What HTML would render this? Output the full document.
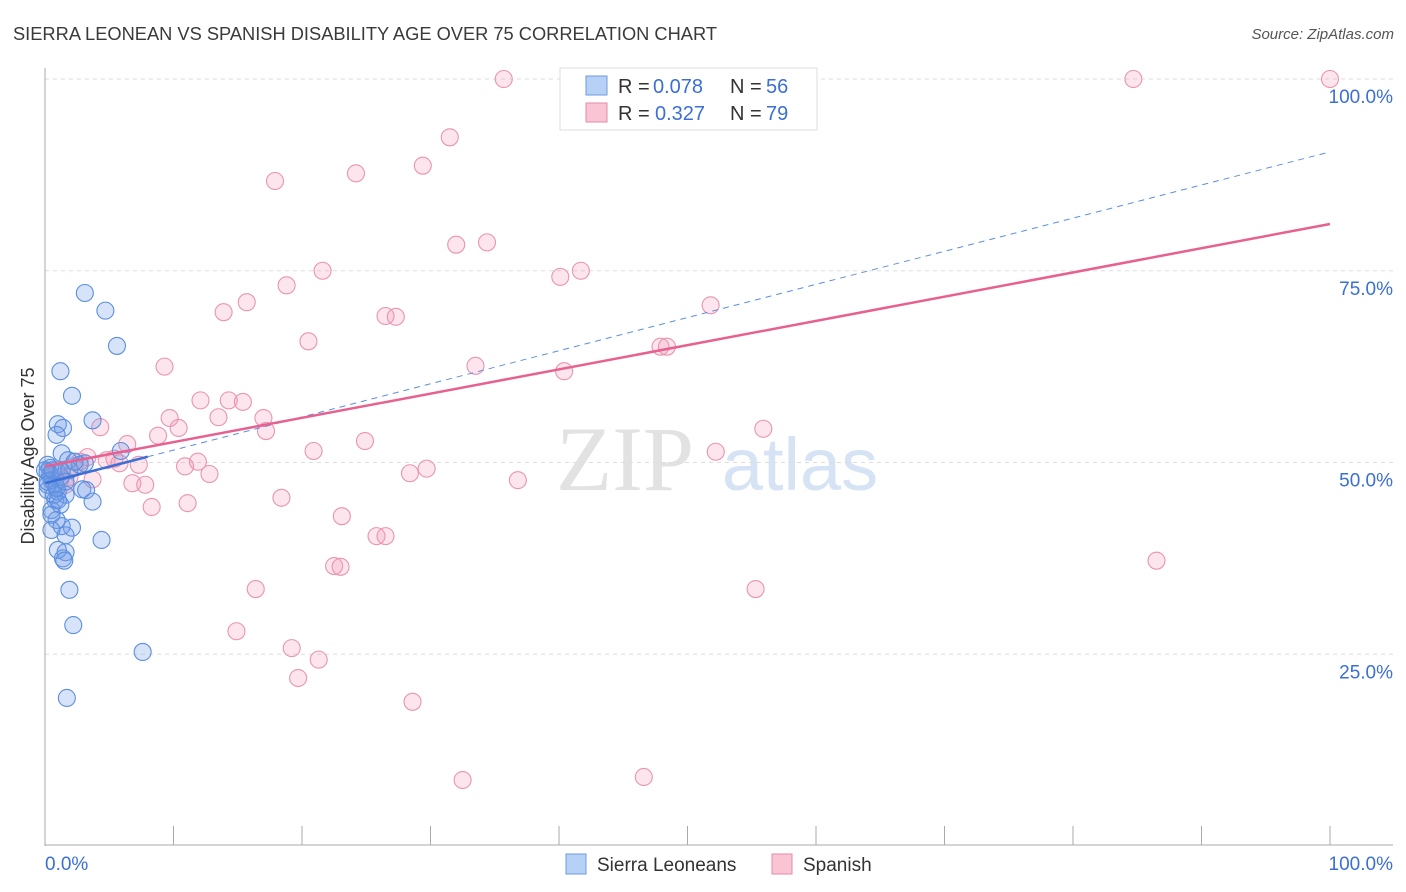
<!DOCTYPE html>
<html><head><meta charset="utf-8"><style>
body{margin:0;background:#fff;font-family:"Liberation Sans",sans-serif;}
svg{display:block}
</style></head><body>
<svg id="chart" width="1406" height="892">
<text x="13" y="40" font-size="18" fill="#3a3a3a" textLength="704" lengthAdjust="spacingAndGlyphs">SIERRA LEONEAN VS SPANISH DISABILITY AGE OVER 75 CORRELATION CHART</text>
<text x="1394" y="39" font-size="15" fill="#555" text-anchor="end" font-style="italic">Source: ZipAtlas.com</text>
<g>
<text x="625" y="490" font-size="92" fill="#e2e2e2" font-family="Liberation Serif,serif" text-anchor="middle">ZIP</text>
<text x="800" y="490" font-size="74" fill="#d6e3f5" text-anchor="middle">atlas</text>
</g>
<g id="grid"></g>
<g id="axes"></g>
<g id="marks"></g>
<g id="lines"></g>
<g>
<rect x="560" y="68" width="257" height="62" fill="#fff" stroke="#ddd"/>
<rect x="586" y="76" width="21" height="19" fill="#b7d0f5" stroke="#6e9ae0"/>
<text x="618" y="93" font-size="20" fill="#333">R =</text>
<text x="653" y="93" font-size="20" fill="#3b6fd4">0.078</text>
<text x="730" y="93" font-size="20" fill="#333">N =</text>
<text x="766" y="93" font-size="20" fill="#3b6fd4">56</text>
<rect x="586" y="103" width="21" height="19" fill="#f9c5d5" stroke="#e88aa8"/>
<text x="618" y="120" font-size="20" fill="#333">R =</text>
<text x="655" y="120" font-size="20" fill="#3b6fd4">0.327</text>
<text x="730" y="120" font-size="20" fill="#333">N =</text>
<text x="766" y="120" font-size="20" fill="#3b6fd4">79</text>
</g>
<g>
<rect x="566" y="854" width="20" height="20" fill="#b7d0f5" stroke="#6e9ae0"/>
<text x="597" y="871" font-size="19" fill="#333">Sierra Leoneans</text>
<rect x="772" y="854" width="20" height="20" fill="#f9c5d5" stroke="#e88aa8"/>
<text x="803" y="871" font-size="19" fill="#333">Spanish</text>
</g>
<text transform="translate(34,456) rotate(-90)" font-size="18" fill="#333" text-anchor="middle">Disability Age Over 75</text>
</svg>
<script>
const blueX=[3.1,4.7,5.6,1.2,2.1,3.7,1.0,1.4,0.9,5.9,1.3,1.8,2.7,3.1,0.4,0.2,0.5,0.8,0.2,1.0,1.6,2.9,3.2,3.7,0.8,1.2,0.5,0.9,1.3,2.1,0.5,1.6,4.4,1.0,1.6,1.4,1.5,1.9,2.2,7.6,1.7,0.2,0.4,0.2,0.7,1.2,1.9,0.5,1.0,0,0.2,0.6,0.9,1.3,2.3,1.6];
const blueY=[72.1,69.8,65.2,61.9,58.7,55.5,55.0,54.5,53.6,51.5,51.2,50.3,49.7,49.9,49.3,48.8,47.7,47.1,46.4,46.2,45.8,46.5,46.4,44.9,45.1,44.5,43.8,42.5,41.7,41.5,41.2,40.5,39.9,38.6,38.3,37.5,37.2,33.4,28.8,25.3,19.3,49.7,48.4,47.5,45.8,48.1,49.0,43.2,45.1,49.0,47.1,49.0,46.7,48.8,50.1,47.5];
const pinkX=[35.7,84.7,100,31.5,29.4,24.2,17.9,34.4,32.0,21.6,41.7,40.1,18.8,15.7,13.9,51.8,26.5,27.3,20.5,47.9,48.4,9.3,33.5,40.4,12.1,14.3,15.4,9.7,13.5,17.0,4.3,10.4,17.2,8.8,55.9,24.9,6.4,20.9,52.2,3.3,4.8,5.4,11.9,10.9,7.3,5.8,29.7,28.4,12.8,36.8,3.7,1.2,1.9,6.8,7.8,18.4,11.1,8.3,23.1,25.8,26.5,22.5,23.0,86.5,16.4,55.3,14.9,19.2,21.3,19.7,28.6,32.5,46.6,0.5,0.9,1.6,2.3,2.7];
const pinkY=[100,100,100,92.4,88.7,87.7,86.7,78.7,78.4,75.0,75.0,74.2,73.1,70.9,69.6,70.5,69.1,69.0,65.8,65.1,65.1,62.5,62.6,61.9,58.1,58.1,57.9,55.8,55.9,55.8,54.6,54.5,54.1,53.5,54.4,52.8,52.4,51.5,51.4,50.7,50.3,50.5,50.1,49.5,49.7,49.9,49.2,48.6,48.5,47.7,47.8,47.8,48.1,47.3,47.1,45.4,44.7,44.2,43.0,40.4,40.4,36.5,36.4,37.2,33.5,33.5,28.0,25.8,24.3,21.9,18.8,8.6,9.0,48.2,49.0,47.1,49.5,50.1];
const yTicks=[25,50,75,100];
const yTickLabels=["25.0%","50.0%","75.0%","100.0%"];
const xTicks=[0,10,20,30,40,50,60,70,80,90,100];
const pinkTrend=[49.5,81.1];
const blueTrend=[47.3,90.5];
const blueSolidEnd=8;

const NS="http://www.w3.org/2000/svg";
const X=v=>45+v*12.85, Y=v=>846-v*7.67;
function mk(tag,attrs,parent){const e=document.createElementNS(NS,tag);for(const k in attrs)e.setAttribute(k,attrs[k]);parent.appendChild(e);return e;}
const grid=document.getElementById('grid'),axes=document.getElementById('axes'),marks=document.getElementById('marks'),lines=document.getElementById('lines');
yTicks.forEach((t,i)=>{
 const l=mk('line',{x1:45,x2:1393,y1:Y(t),y2:Y(t),stroke:'#ddd','stroke-dasharray':'4,4'},grid);
 
 
 const tx=mk('text',{x:1393,y:Y(t)+24,'font-size':19,fill:'#3b6fd4','text-anchor':'end'},axes);
 tx.textContent=yTickLabels[i];
 
 
});
let a=mk('line',{x1:45,x2:45,y1:68,y2:846,stroke:'#aaa'},axes);


a=mk('line',{x1:45,x2:1393,y1:845,y2:845,stroke:'#aaa'},axes);


xTicks.forEach(t=>{
 const l=mk('line',{x1:X(t),x2:X(t),y1:826,y2:845,stroke:'#aaa'},axes);
 
 
});
let t0=mk('text',{x:45,y:870,'font-size':19,fill:'#3b6fd4'},axes);t0.textContent='0.0%';


let t1=mk('text',{x:1393,y:870,'font-size':19,fill:'#3b6fd4','text-anchor':'end'},axes);t1.textContent='100.0%';


pinkX.forEach((v,i)=>{
 const c=mk('circle',{cx:X(v),cy:Y(pinkY[i]),r:8.5,fill:'rgba(244,150,180,0.25)',stroke:'#ea94b0','stroke-width':1.1},marks);
 
 
});
blueX.forEach((v,i)=>{
 const c=mk('circle',{cx:X(v),cy:Y(blueY[i]),r:8.5,fill:'rgba(110,155,230,0.28)',stroke:'#5b8fe0','stroke-width':1.1},marks);
 
 
});
const bAt=x=>blueTrend[0]+(blueTrend[1]-blueTrend[0])*x/100;
let l=mk('line',{x1:X(blueSolidEnd),y1:Y(bAt(blueSolidEnd)),x2:X(100),y2:Y(bAt(100)),stroke:'#5b8fe0','stroke-width':1,'stroke-dasharray':'6,5'},lines);


l=mk('line',{x1:X(0),y1:Y(pinkTrend[0]),x2:X(100),y2:Y(pinkTrend[1]),stroke:'#e8608f','stroke-width':2.5},lines);


l=mk('line',{x1:X(0),y1:Y(bAt(0)),x2:X(blueSolidEnd),y2:Y(bAt(blueSolidEnd)),stroke:'#3a6fd8','stroke-width':2.5},lines);


</script>
</body></html>
